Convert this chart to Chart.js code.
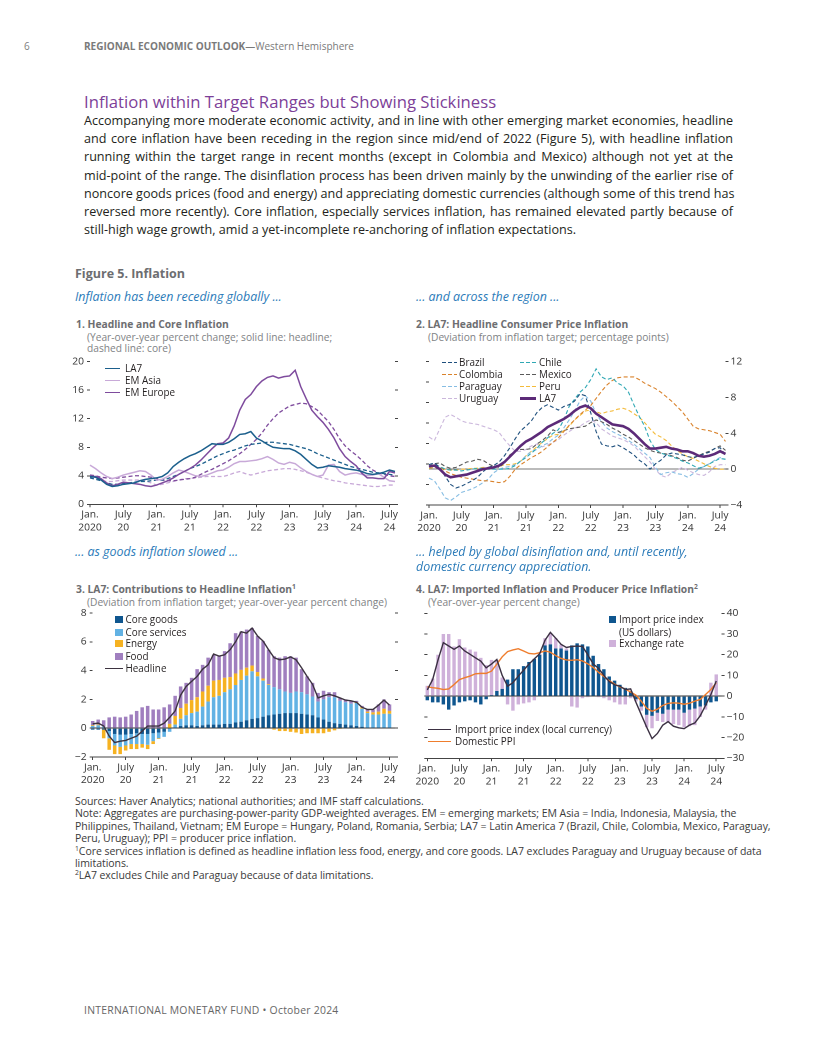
<!DOCTYPE html>
<html lang="en">
<head>
<meta charset="UTF-8" />
<title>Figure 5. Inflation</title>
<script src="https://cdn.jsdelivr.net/npm/chart.js"></script>
<style>
  body { margin: 0; background: #fff; font-family: 'Open Sans', Lato, sans-serif; color: #231f20; }
  .page { position: relative; width: 816px; height: 1056px; overflow: hidden; }
  .t { position: absolute; white-space: nowrap; line-height: 1.2; }
  .body { position: absolute; left: 84px; top: 112px; width: 649px; font-size: 12.6px; line-height: 18.2px; }
  .body div { white-space: nowrap; text-align: justify; text-align-last: justify; }
  .body div.last { text-align-last: left; }
  .ptitle { font-size: 10.3px; font-weight: 700; color: #6d6e71; }
  .psub { font-size: 10.2px; color: #808285; }
  .fsub { font-size: 12.4px; font-style: italic; color: #2b7bb9; }
  .ch { position: absolute; }
  .lg { position: absolute; font-size: 9.9px; line-height: 12px; white-space: nowrap; color: #231f20; }
  .lg i { display: inline-block; vertical-align: middle; margin-top: -2px; }
  .notes { position: absolute; left: 75px; top: 795px; font-size: 10.5px; line-height: 12.4px; color: #3a3a3a; white-space: nowrap; letter-spacing: -0.05px; }
  sup { font-size: 65%; line-height: 0; }
</style>
</head>
<body>
<div class="page">
  <div class="t" style="left:24px;top:40px;font-size:10px;color:#808080">6</div>
  <div class="t" style="left:84px;top:40px;font-size:10px;color:#7a7a7a"><b>REGIONAL ECONOMIC OUTLOOK</b>—Western Hemisphere</div>

  <div class="t" style="left:84px;top:92px;font-size:16.7px;color:#7d3f98">Inflation within Target Ranges but Showing Stickiness</div>
  <div class="body">
    <div>Accompanying more moderate economic activity, and in line with other emerging market economies, headline</div>
    <div>and core inflation have been receding in the region since mid/end of 2022 (Figure 5), with headline inflation</div>
    <div>running within the target range in recent months (except in Colombia and Mexico) although not yet at the</div>
    <div>mid-point of the range. The disinflation process has been driven mainly by the unwinding of the earlier rise of</div>
    <div>noncore goods prices (food and energy) and appreciating domestic currencies (although some of this trend has</div>
    <div>reversed more recently). Core inflation, especially services inflation, has remained elevated partly because of</div>
    <div class="last">still-high wage growth, amid a yet-incomplete re-anchoring of inflation expectations.</div>
  </div>

  <div class="t" style="left:75px;top:266px;font-size:12.5px;font-weight:700;color:#6d6e71">Figure 5. Inflation</div>

  <div class="t fsub" style="left:75px;top:290px">Inflation has been receding globally ...</div>
  <div class="t fsub" style="left:416px;top:290px">... and across the region ...</div>

  <div class="t ptitle" style="left:76px;top:318px">1. Headline and Core Inflation</div>
  <div class="t psub" style="left:87px;top:331px">(Year-over-year percent change; solid line: headline;</div>
  <div class="t psub" style="left:87px;top:342px">dashed line: core)</div>
  <div class="t ptitle" style="left:416px;top:318px">2. LA7: Headline Consumer Price Inflation</div>
  <div class="t psub" style="left:428px;top:331px">(Deviation from inflation target; percentage points)</div>

  <div class="ch" style="left:55px;top:350px;width:350px;height:190px"><canvas id="c1"></canvas></div>
  <div class="ch" style="left:395px;top:350px;width:360px;height:190px"><canvas id="c2"></canvas></div>

  <div class="t fsub" style="left:75px;top:545px">... as goods inflation slowed ...</div>
  <div class="t fsub" style="left:416px;top:545px">... helped by global disinflation and, until recently,</div>
  <div class="t fsub" style="left:416px;top:560px">domestic currency appreciation.</div>

  <div class="t ptitle" style="left:76px;top:583px">3. LA7: Contributions to Headline Inflation<sup>1</sup></div>
  <div class="t psub" style="left:87px;top:596px">(Deviation from inflation target; year-over-year percent change)</div>
  <div class="t ptitle" style="left:416px;top:583px">4. LA7: Imported Inflation and Producer Price Inflation<sup>2</sup></div>
  <div class="t psub" style="left:428px;top:596px">(Year-over-year percent change)</div>

  <div class="ch" style="left:55px;top:600px;width:350px;height:190px"><canvas id="c3"></canvas></div>
  <div class="ch" style="left:395px;top:600px;width:360px;height:190px"><canvas id="c4"></canvas></div>

  <!-- legends -->
  <div class="lg" style="left:105px;top:362px"><i style="width:15px;height:1.6px;background:#1b5f8c;margin-right:5px"></i>LA7</div>
  <div class="lg" style="left:105px;top:374px"><i style="width:15px;height:1.6px;background:#c8a9d8;margin-right:5px"></i>EM Asia</div>
  <div class="lg" style="left:105px;top:386px"><i style="width:15px;height:1.6px;background:#7e4b9d;margin-right:5px"></i>EM Europe</div>

  <div class="lg" style="left:442px;top:356px"><i style="width:15px;height:1.4px;background:repeating-linear-gradient(90deg,#1e4f7d 0 4px,transparent 4px 6px);margin-right:2px"></i>Brazil</div>
  <div class="lg" style="left:442px;top:368px"><i style="width:15px;height:1.4px;background:repeating-linear-gradient(90deg,#d9822b 0 4px,transparent 4px 6px);margin-right:2px"></i>Colombia</div>
  <div class="lg" style="left:442px;top:380px"><i style="width:15px;height:1.4px;background:repeating-linear-gradient(90deg,#86bde3 0 4px,transparent 4px 6px);margin-right:2px"></i>Paraguay</div>
  <div class="lg" style="left:442px;top:392px"><i style="width:15px;height:1.4px;background:repeating-linear-gradient(90deg,#cbb7dc 0 4px,transparent 4px 6px);margin-right:2px"></i>Uruguay</div>
  <div class="lg" style="left:520px;top:356px"><i style="width:16px;height:1.4px;background:repeating-linear-gradient(90deg,#2fa8b4 0 4px,transparent 4px 6px);margin-right:3px"></i>Chile</div>
  <div class="lg" style="left:520px;top:368px"><i style="width:16px;height:1.4px;background:repeating-linear-gradient(90deg,#5a5a5a 0 4px,transparent 4px 6px);margin-right:3px"></i>Mexico</div>
  <div class="lg" style="left:520px;top:380px"><i style="width:16px;height:1.4px;background:repeating-linear-gradient(90deg,#f4bb3a 0 4px,transparent 4px 6px);margin-right:3px"></i>Peru</div>
  <div class="lg" style="left:520px;top:392px"><i style="width:16px;height:2.6px;background:#5c2a78;margin-right:3px"></i>LA7</div>

  <div class="lg" style="left:115px;top:613px"><i style="width:7.5px;height:7.5px;background:#0f568f;margin-right:3px"></i>Core goods</div>
  <div class="lg" style="left:115px;top:626px"><i style="width:7.5px;height:7.5px;background:#62b2e4;margin-right:3px"></i>Core services</div>
  <div class="lg" style="left:115px;top:637px"><i style="width:7.5px;height:7.5px;background:#f6b221;margin-right:3px"></i>Energy</div>
  <div class="lg" style="left:115px;top:650px"><i style="width:7.5px;height:7.5px;background:#a07fbf;margin-right:3px"></i>Food</div>
  <div class="lg" style="left:105px;top:662px"><i style="width:17.5px;height:1.6px;background:#3d3340;margin-right:3px"></i>Headline</div>

  <div class="lg" style="left:609px;top:613px"><i style="width:7px;height:7px;background:#0f568f;margin-right:3px"></i>Import price index</div>
  <div class="lg" style="left:619px;top:626px">(US dollars)</div>
  <div class="lg" style="left:609px;top:637px"><i style="width:7px;height:7px;background:#cfb1da;margin-right:3px"></i>Exchange rate</div>
  <div class="lg" style="left:428px;top:723px"><i style="width:23px;height:1.6px;background:#3b3042;margin-right:4px"></i>Import price index (local currency)</div>
  <div class="lg" style="left:428px;top:735px"><i style="width:23px;height:1.6px;background:#ef7d2d;margin-right:4px"></i>Domestic PPI</div>

  <div class="notes">
    Sources: Haver Analytics; national authorities; and IMF staff calculations.<br>
    Note: Aggregates are purchasing-power-parity GDP-weighted averages. EM = emerging markets; EM Asia = India, Indonesia, Malaysia, the<br>
    Philippines, Thailand, Vietnam; EM Europe = Hungary, Poland, Romania, Serbia; LA7 = Latin America 7 (Brazil, Chile, Colombia, Mexico, Paraguay,<br>
    Peru, Uruguay); PPI = producer price inflation.<br>
    <sup>1</sup>Core services inflation is defined as headline inflation less food, energy, and core goods. LA7 excludes Paraguay and Uruguay because of data<br>
    limitations.<br>
    <sup>2</sup>LA7 excludes Chile and Paraguay because of data limitations.
  </div>

  <div class="t" style="left:84px;top:1004px;font-size:10.4px;letter-spacing:0.25px;color:#666">INTERNATIONAL MONETARY FUND • October 2024</div>
</div>

<script>
  // monthly categories, Jan 2020 - Aug 2024
  const months = [
    '2020-01','2020-02','2020-03','2020-04','2020-05','2020-06','2020-07','2020-08','2020-09','2020-10','2020-11','2020-12',
    '2021-01','2021-02','2021-03','2021-04','2021-05','2021-06','2021-07','2021-08','2021-09','2021-10','2021-11','2021-12',
    '2022-01','2022-02','2022-03','2022-04','2022-05','2022-06','2022-07','2022-08','2022-09','2022-10','2022-11','2022-12',
    '2023-01','2023-02','2023-03','2023-04','2023-05','2023-06','2023-07','2023-08','2023-09','2023-10','2023-11','2023-12',
    '2024-01','2024-02','2024-03','2024-04','2024-05','2024-06','2024-07','2024-08'
  ];
  const tickMonths = ['2020-01','2020-07','2021-01','2021-07','2022-01','2022-07','2023-01','2023-07','2024-01','2024-07'];
  const tickText = [['Jan.','2020'],['July','20'],['Jan.','21'],['July','21'],['Jan.','22'],['July','22'],['Jan.','23'],['July','23'],['Jan.','24'],['July','24']];

  // panel 1: headline (solid) and core (dashed)
  const la7Headline = [3.9,3.8,3.4,2.8,2.5,2.6,2.8,2.9,3.0,3.3,3.5,3.6, 3.7,3.9,4.4,5.3,5.9,6.4,6.8,7.1,7.5,8.0,8.5,8.4,
    8.4,8.7,9.2,9.8,9.9,10.2,9.3,8.9,8.4,8.0,7.9,7.8, 7.8,7.5,7.0,6.3,5.6,5.1,5.2,5.4,5.3,5.2,5.0,4.9, 4.8,4.6,4.3,4.2,4.3,4.5,4.8,4.6];
  const la7Core = [3.7,3.5,3.3,3.0,2.8,2.8,2.9,3.0,3.1,3.2,3.2,3.3, 3.4,3.4,3.6,3.9,4.2,4.6,5.0,5.3,5.6,6.0,6.4,6.8,
    7.1,7.4,7.6,7.9,8.2,8.4,8.5,8.6,8.7,8.7,8.6,8.5, 8.4,8.2,8.0,7.8,7.5,7.1,6.8,6.5,6.2,5.9,5.6,5.3, 5.1,4.9,4.7,4.5,4.4,4.3,4.2,4.1];
  const asiaHeadline = [5.5,5.0,4.4,3.9,3.6,3.8,4.1,4.3,4.5,4.7,4.6,4.1, 3.4,3.5,3.9,4.4,4.8,4.6,4.3,4.0,3.9,4.1,4.4,4.7,
    4.8,5.2,5.7,6.0,6.0,6.1,6.2,6.4,6.7,6.3,5.8,5.6, 5.9,5.7,5.1,4.6,4.2,3.9,4.1,5.5,5.6,4.6,4.1,4.3, 4.4,4.2,4.0,4.1,4.3,3.8,3.3,3.2];
  const asiaCore = [3.8,3.6,3.3,3.2,3.2,3.3,3.4,3.4,3.4,3.4,3.3,3.0, 2.7,2.8,3.0,3.2,3.4,3.6,3.6,3.7,3.8,3.9,3.9,3.9,
    3.9,4.1,4.4,4.6,4.3,4.1,4.3,4.5,4.7,4.8,4.9,5.0, 5.0,4.9,4.7,4.5,4.2,3.9,3.7,3.5,3.3,3.2,3.0,2.9, 2.8,2.7,2.6,2.5,2.5,2.6,2.7,2.7];
  const europeHeadline = [3.9,3.9,3.6,3.0,2.6,2.8,3.1,3.0,2.9,2.8,2.6,2.5, 2.7,3.0,3.3,3.7,4.2,4.6,5.0,5.5,6.2,7.0,7.8,8.5,
    8.6,9.3,11.0,13.2,14.7,15.4,16.5,17.3,17.8,18.0,17.7,17.9, 18.0,18.8,16.5,14.8,13.2,12.3,11.5,10.5,9.3,7.8,6.7,6.0, 5.4,4.4,3.7,3.7,3.6,3.6,4.6,4.4];
  const europeCore = [4.1,4.0,3.8,3.7,3.6,3.7,3.8,3.9,4.0,4.0,3.9,3.8, 3.6,3.4,3.3,3.3,3.4,3.5,3.6,3.8,4.2,4.6,4.9,5.3,
    5.7,6.1,6.6,7.1,7.7,8.4,9.1,10.0,11.1,12.0,12.8,13.3, 13.8,14.0,14.2,14.1,13.7,13.2,12.4,11.6,10.5,9.2,8.2,7.5, 6.9,6.2,5.4,4.8,4.4,4.2,4.0,3.9];

  // panel 2: deviation from target, percentage points
  const brazil = [0.5,0.7,0.2,-0.8,-1.7,-2.1,-1.9,-1.6,-1.3,-0.9,-0.3,0.2, 0.4,0.8,1.5,2.4,3.4,4.3,4.8,5.4,6.3,6.9,7.2,6.9,
    6.6,7.0,7.2,7.6,8.4,8.2,6.3,4.2,2.8,2.6,2.5,2.7, 2.4,2.0,1.6,1.0,0.6,0.0,0.6,1.0,1.6,1.8,1.7,1.6, 1.4,1.3,1.5,1.7,1.9,2.3,2.4,1.6];
  const chile = [0.3,0.5,0.3,0.0,-0.1,-0.1,-0.2,-0.1,0.0,0.1,0.1,0.0, 0.0,0.0,0.0,0.1,0.4,0.9,1.3,1.8,2.3,3.0,3.5,4.0,
    4.4,5.5,7.0,7.8,8.6,9.1,10.0,11.2,10.3,10.0,10.2,9.6, 9.3,8.6,7.2,5.9,4.8,3.2,2.2,1.8,1.6,1.4,1.2,0.9, 0.7,0.4,0.1,0.3,0.6,0.9,1.2,1.1];
  const colombia = [0.3,0.5,0.3,-0.2,-0.5,-0.7,-0.9,-1.0,-1.1,-1.2,-1.3,-1.3, -1.4,-1.5,-1.4,-0.8,0.0,0.5,0.9,1.3,1.6,2.0,2.5,3.0,
    3.5,4.2,4.9,5.5,6.1,6.6,7.1,7.9,8.7,9.4,9.9,10.2, 10.3,10.3,10.3,10.0,9.6,9.3,9.0,8.6,8.1,7.6,7.0,6.4, 5.6,4.8,4.5,4.4,4.3,4.1,3.9,3.1];
  const mexico = [0.3,0.6,0.7,0.3,0.1,0.2,0.5,0.8,0.9,1.1,1.0,0.6, 0.3,0.2,0.7,1.6,2.0,2.2,2.2,2.3,2.8,3.2,3.7,4.4,
    4.1,4.3,4.5,4.6,4.7,4.8,5.2,5.5,5.3,5.0,4.6,4.3, 3.9,3.6,3.2,2.8,2.4,2.1,1.9,1.8,1.7,1.5,1.3,1.0, 0.9,1.2,1.5,1.8,2.0,2.3,2.6,2.1];
  const paraguay = [-1.0,-1.3,-2.2,-3.2,-3.5,-3.1,-2.6,-2.4,-2.2,-1.9,-1.5,-1.1, -0.4,0.0,0.2,0.3,0.5,0.9,1.5,2.0,2.2,2.6,2.9,3.4,
    3.8,4.6,5.5,6.5,7.6,8.2,7.6,6.2,5.3,4.6,4.2,3.9, 3.6,3.2,2.8,2.3,1.8,1.3,0.2,-0.6,-0.4,-0.3,-0.5,-0.6, -0.9,-0.5,0.0,0.3,0.6,1.0,1.3,1.1];
  const peru = [0.1,0.2,0.1,0.0,-0.1,-0.1,0.0,0.0,0.1,0.1,0.2,0.2, 0.2,0.3,0.5,0.5,0.6,0.9,1.5,2.0,2.5,3.0,3.4,3.8,
    3.9,4.3,4.8,5.5,6.0,6.5,6.6,6.4,6.2,6.4,6.5,6.7, 6.8,6.6,6.2,5.8,5.2,4.5,3.9,3.6,3.2,2.6,2.1,1.7, 1.4,1.2,0.9,0.6,0.3,0.1,0.0,0.0];
  const uruguay = [3.6,3.2,4.5,5.8,6.1,5.8,5.4,5.2,5.1,5.0,4.8,4.6, 4.4,4.1,3.3,2.6,2.0,2.0,2.2,2.6,2.8,2.5,2.7,3.0,
    3.3,3.8,4.2,4.6,4.8,5.2,5.5,5.2,4.5,4.1,3.7,3.5, 3.3,3.0,2.6,2.0,1.4,0.8,0.0,-0.7,-0.9,-0.4,-0.1,0.2, -0.1,-0.4,-0.6,-0.7,-0.3,0.3,0.5,0.5];
  const la7Deviation = [0.3,0.4,0.0,-0.6,-0.9,-0.8,-0.7,-0.6,-0.4,-0.2,0.0,0.1, 0.2,0.4,0.8,1.4,2.0,2.6,3.1,3.4,3.8,4.2,4.7,5.0,
    5.3,5.6,6.0,6.5,6.9,7.1,6.8,6.2,5.8,5.4,5.0,4.9, 4.8,4.5,4.0,3.4,2.8,2.3,2.3,2.4,2.5,2.3,2.2,2.0, 2.0,1.8,1.5,1.4,1.5,1.7,2.0,1.7];

  // panel 3: contributions (Jan 2020 - Jul 2024)
  const coreGoods = [-0.1,-0.1,-0.1,-0.2,-0.4,-0.45,-0.45,-0.4,-0.35,-0.4,-0.4,-0.35, -0.3,-0.25,-0.05,0.05,0.15,0.2,0.2,0.15,0.2,0.25,0.25,0.25,
    0.3,0.3,0.4,0.45,0.55,0.65,0.7,0.8,0.9,0.95,1.0,1.05, 1.05,1.05,1.0,0.95,0.9,0.75,0.6,0.45,0.35,0.3,0.25,0.2, 0.15,0.1,0.05,0.05,0.05,0.05,0.05];
  const coreServices = [0.15,0.2,0.1,-0.5,-0.8,-0.85,-0.75,-0.7,-0.75,-0.7,-0.75,-0.55, -0.4,-0.35,-0.2,0.2,0.5,0.7,0.85,1.0,1.3,1.6,1.9,2.0,
    2.2,2.4,2.6,2.9,3.1,3.3,2.9,2.5,2.1,1.9,1.7,1.5, 1.4,1.5,1.5,1.4,1.3,1.1,1.4,1.7,1.8,1.6,1.55,1.5, 1.6,1.25,1.0,0.9,0.9,0.95,0.95];
  const energy = [0.05,0.05,-0.6,-0.8,-0.6,-0.5,-0.35,-0.35,-0.35,-0.25,-0.3,-0.2, -0.05,0,0.3,0.6,0.75,0.8,0.9,1.0,1.05,1.1,1.15,1.1,
    1.0,0.85,0.8,0.7,0.55,0.4,0.3,0.15,0.05,-0.1,-0.2,-0.2, -0.25,-0.3,-0.4,-0.35,-0.35,-0.35,-0.35,-0.25,-0.15,-0.05,0,0, 0.05,0.1,0.1,0.15,0.2,0.35,0.2];
  const food = [0.3,0.35,0.45,0.75,0.8,0.75,0.8,0.95,1.2,1.45,1.55,1.3, 1.3,1.45,1.35,1.4,1.5,1.45,1.55,1.95,1.85,1.95,1.8,1.65,
    1.85,2.35,2.8,2.65,2.65,2.6,2.5,2.6,2.4,2.15,2.2,2.45, 2.55,2.35,1.6,1.25,0.95,0.6,0.6,0.35,0.35,0.2,0.2,0.2, 0.1,0.1,0.15,0.2,0.5,0.65,0.45];
  const headline = [0.3,0.35,0.15,-0.55,-1.0,-0.9,-0.85,-0.7,-0.55,-0.2,0.15,0.15, 0.15,0.35,0.75,1.2,2.3,2.9,3.25,3.6,4.1,4.4,5.15,5.0,
    5.1,5.45,6.0,6.7,6.6,6.95,6.4,6.05,5.45,4.9,4.75,4.8, 4.95,4.75,4.2,3.6,3.05,2.1,2.25,2.35,2.25,2.1,1.95,1.9, 1.8,1.45,1.3,1.3,1.6,1.95,1.6];

  // panel 4: import prices and PPI (Jan 2020 - Jul 2024)
  const importUsd = [-2,-3,-3,-4,-6.5,-4.5,-3,-2.5,-2,-3,-4,-1.5, 0.5,2.5,3.5,8,13,13,14.5,16.5,18,20,24.5,25,
    23,23,22,24.5,25.5,25,24,19.5,15.5,13,9.5,7.5, 5.5,4,2.5,-1.5,-5,-9,-9.5,-8,-8.5,-6.5,-6.5,-6.5, -8,-6.5,-6,-5,-4.5,-3,-2.5];
  const exchangeRate = [5,8.5,20,30,30,24,27.5,23.5,22.5,21.5,18.5,15, 17,15,5.5,-4,-7,-4,-3.5,-3,-2,0.5,3.5,5.5,
    5,2,1,-5,-5.5,-1,-0.5,0,-0.5,-1,-2,-3, -4,-4,-1,-1,-2,-6,-6,-4,-4,-6,-7,-7.5, -7,-8,-8,-5,-2,6.5,10.5];
  const importLocal = [3,8,17.5,25.8,24.2,22.6,24.2,21.8,20.2,18.5,16.9,13.7, 15.5,17.7,10,4.8,6.5,9.7,12.5,15.5,18,20.5,27,30.8,
    28,25,23.5,24,24.2,24,20,15.5,13.5,10,7,5.5, 4.8,3.2,3.5,-3,-9,-15,-20.5,-18,-14,-12.3,-14.5,-15.3, -15.7,-14,-12.9,-9.5,-4.5,0.8,7.3];
  const domesticPpi = [4.5,4.1,3.8,3.2,3.5,5.6,8,8.9,9.7,10.8,11,11, 12.1,15.5,19,21.5,22.3,22.9,21.8,20.6,20.4,21,21.8,21.2,
    19.6,18.2,17.5,17.3,17.6,17,15.6,13.9,11.5,9.5,7.5,5.8, 4.5,3.4,2.0,0.5,-2.5,-5.8,-7.3,-6.3,-4.5,-3.5,-3.2,-3.4, -3.9,-3.4,-2.4,-1.6,0.8,3.2,6.5];

  Chart.defaults.font.family = "'Open Sans'";
  Chart.defaults.color = '#333';

  function xAxis(h, stacked) {
    return {
      type: 'category', offset: false, stacked: stacked,
      border: { display: true, color: '#444', width: 1 },
      grid: { drawOnChartArea: false, offset: false, tickLength: 3,
              color: c => (c.index % 6 === 0 ? '#444' : 'rgba(0,0,0,0)') },
      ticks: { autoSkip: false, maxRotation: 0, minRotation: 0, padding: 1,
               font: { size: 10.3, lineHeight: 1.25 },
               callback: (v, i) => { const j = tickMonths.indexOf(months[i]); return j < 0 ? '' : tickText[j]; } },
      afterFit: s => { s.height = h; }
    };
  }

  function yAxis(position, min, max, step, width, labels, zeroColor, stacked, pad) {
    return {
      position, min, max, stacked: !!stacked,
      border: { display: false },
      grid: { drawOnChartArea: !!zeroColor, tickLength: 3, tickColor: '#444',
              color: c => (zeroColor && c.tick && c.tick.value === 0 ? zeroColor : 'rgba(0,0,0,0)') },
      ticks: { display: labels, stepSize: step, padding: pad === undefined ? 3 : pad, font: { size: 10.3 },
               callback: v => (v < 0 ? '\u2212' + Math.abs(v) : String(v)) },
      afterFit: s => { s.width = width; }
    };
  }

  function baseOptions(padTop) {
    return {
      animation: false, responsive: true, maintainAspectRatio: false, devicePixelRatio: 2,
      layout: { padding: { top: padTop, left: 0, right: 0, bottom: 0 } },
      plugins: { legend: { display: false }, tooltip: { enabled: false } },
      elements: { point: { radius: 0 }, line: { tension: 0 } }
    };
  }

  function line(data, color, width, dash, extra) {
    return Object.assign({ type: 'line', data, borderColor: color, borderWidth: width, borderDash: dash || [], fill: false }, extra || {});
  }

  // 1. Headline and core inflation
  const o1 = baseOptions(11.7);
  o1.scales = { x: xAxis(35.7, false), y: yAxis('left', 0, 20, 4, 35, true, null), y2: yAxis('right', 0, 20, 4, 10, false, null) };
  new Chart(document.getElementById('c1'), {
    type: 'line',
    data: { labels: months, datasets: [
      line(la7Headline, '#1b5f8c', 1.5),
      line(europeHeadline, '#7e4b9d', 1.5),
      line(asiaHeadline, '#c8a9d8', 1.5),
      line(la7Core, '#1b5f8c', 1.3, [4, 2.5]),
      line(europeCore, '#7e4b9d', 1.3, [4, 2.5]),
      line(asiaCore, '#c8a9d8', 1.3, [4, 2.5])
    ] },
    options: o1
  });

  // 2. LA7 headline CPI, deviation from target
  const o2 = baseOptions(11.7);
  o2.scales = { x: xAxis(35, false), yL: yAxis('left', 0, 7, 1, 34, false, null), y: yAxis('right', -4, 12, 4, 29.5, true, '#777', false, 2) };
  new Chart(document.getElementById('c2'), {
    type: 'line',
    data: { labels: months, datasets: [
      line(la7Deviation, '#5c2a78', 2.6, [], { order: 0, yAxisID: 'y' }),
      line(brazil, '#1e4f7d', 1.1, [4, 2.5], { order: 1, yAxisID: 'y' }),
      line(chile, '#2fa8b4', 1.1, [4, 2.5], { order: 1, yAxisID: 'y' }),
      line(colombia, '#d9822b', 1.1, [4, 2.5], { order: 1, yAxisID: 'y' }),
      line(mexico, '#5a5a5a', 1.1, [4, 2.5], { order: 1, yAxisID: 'y' }),
      line(paraguay, '#86bde3', 1.1, [4, 2.5], { order: 1, yAxisID: 'y' }),
      line(peru, '#f4bb3a', 1.1, [4, 2.5], { order: 1, yAxisID: 'y' }),
      line(uruguay, '#cbb7dc', 1.1, [4, 2.5], { order: 1, yAxisID: 'y' })
    ] },
    options: o2
  });

  // 3. Contributions to headline inflation
  const o3 = baseOptions(13);
  const y3 = yAxis('left', -2, 8, 2, 37.7, true, '#333', true);
  y3.z = 1;
  o3.scales = { x: xAxis(33, true), y: y3, y2: yAxis('right', -2, 8, 2, 10, false, null) };
  const bar = (data, color) => ({ type: 'bar', data, backgroundColor: color, categoryPercentage: 1, barPercentage: 0.64, order: 1, clip: false, yAxisID: 'y' });
  new Chart(document.getElementById('c3'), {
    type: 'bar',
    data: { labels: months, datasets: [
      bar(coreGoods, '#0f568f'),
      bar(coreServices, '#62b2e4'),
      bar(energy, '#f6b221'),
      bar(food, '#a07fbf'),
      line(headline, '#3d3340', 1.4, [], { order: 0, stack: 'headline', yAxisID: 'y' })
    ] },
    options: o3
  });

  // 4. Imported inflation and producer price inflation
  const o4 = baseOptions(13.3);
  const y4 = yAxis('right', -30, 40, 10, 33.4, true, '#333', true, 2);
  y4.z = 1;
  o4.scales = { x: xAxis(31.7, true), yL: yAxis('left', -30, 40, 10, 32.3, false, null), y: y4 };
  new Chart(document.getElementById('c4'), {
    type: 'bar',
    data: { labels: months, datasets: [
      bar(importUsd, '#0f568f'),
      bar(exchangeRate, '#cfb1da'),
      line(importLocal, '#3b3042', 1.4, [], { order: 0, stack: 'local', yAxisID: 'y' }),
      line(domesticPpi, '#ef7d2d', 1.4, [], { order: 0, stack: 'ppi', yAxisID: 'y' })
    ] },
    options: o4
  });
</script>
</body>
</html>
